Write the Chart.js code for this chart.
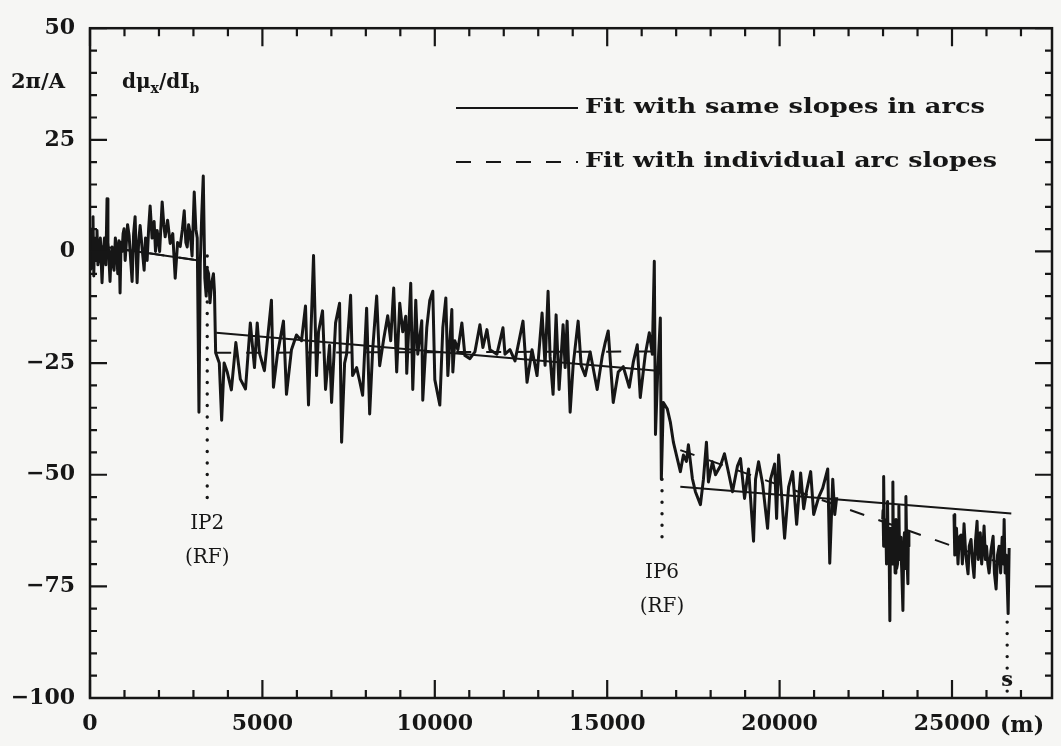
<!DOCTYPE html>
<html>
<head>
<meta charset="utf-8">
<script src="https://cdn.jsdelivr.net/npm/chart.js@4.4.1/dist/chart.umd.min.js"></script>
<style>
  html, body { margin: 0; padding: 0; background: #f6f6f4; }
  #wrap { width: 1061px; height: 746px; }
</style>
</head>
<body>
<div id="wrap"><canvas id="tuneChart" width="1061" height="746"></canvas></div>
<script>
// position around the ring (m) and measured dmu_x/dI_b (2pi/A), one pair of arrays per stretch
const arcA_s = [0, 20, 40, 60, 87, 110, 130, 150, 175, 203,
    230, 260, 300, 349, 385, 420, 460, 494, 520, 540,
    581, 610, 640, 670, 698, 735, 770, 805, 843, 872,
    900, 930, 960, 988, 1020, 1050, 1090, 1134, 1180, 1221,
    1265, 1308, 1366, 1410, 1454, 1520, 1570, 1610, 1657, 1700,
    1744, 1800, 1860, 1900, 1948, 2020, 2093, 2140, 2180, 2250,
    2326, 2400, 2471, 2540, 2616, 2680, 2733, 2780, 2820, 2860,
    2907, 2960, 3023, 3070, 3110, 3160, 3198, 3240, 3285, 3330,
    3370, 3400, 3440, 3480, 3530, 3580, 3610, 3644];
const arcA_v = [2, -4, 5, -3, 7.8, -5.5, 3, 2, -2, 4.7,
    -3, -1, 3, -7, 0, 3, -3, 11.8, 2, 0,
    -6.7, -1, 1, -3, -4.2, 3, 1, -5, 2.4, -9.3,
    2, 0, 4, 5.1, -2, 1.5, 6, 3.6, -2, -6.7,
    4, 7.8, -7, 2, 5.8, 0, -4.2, 3, -2, 5,
    10.2, 3, 6.7, 0, 4.7, 0, 11.1, 6, 3.3, 7,
    1.8, 4, -6, 2, 1.1, 5, 9.1, 2, 1, 6,
    4, -1, 13.3, 5, 3, -36, -2.7, 8, 16.9, -6,
    -10, -4, -5, -11.5, -7, -5, -9, -22.7];

const arcB_s = [3750, 3818, 3890, 3980, 4100, 4230, 4360, 4510, 4650, 4770,
    4850, 4913, 5058, 5262, 5320, 5436, 5611, 5698, 5843, 5988,
    6134, 6250, 6337, 6483, 6570, 6628, 6744, 6831, 6948, 7006,
    7122, 7238, 7297, 7384, 7442, 7558, 7616, 7733, 7820, 7907,
    8023, 8111, 8198, 8314, 8401, 8518, 8634, 8721, 8808, 8895,
    8983, 9070, 9157, 9186, 9302, 9361, 9448, 9506, 9622, 9651,
    9768, 9855, 9942, 10000, 10145, 10233, 10320, 10378, 10494, 10523,
    10581, 10669, 10785, 10872, 11018, 11163, 11308, 11395, 11512, 11599,
    11802, 11977, 12035, 12180, 12326, 12558, 12675, 12820, 12965, 13111,
    13198, 13285, 13343, 13430, 13518, 13605, 13721, 13780, 13837, 13925,
    14012, 14157, 14244, 14361, 14506, 14709, 14855, 14942, 15029, 15175,
    15320, 15465, 15640, 15756, 15872, 15959, 16105, 16221, 16308, 16366,
    16400, 16460, 16541, 16570, 16628];
const arcB_v = [-25, -37.8, -25, -27, -31, -20.4, -28.6, -30.8, -16, -26,
    -16, -22.7, -26.7, -10.9, -30.4, -23, -15.6, -32, -22, -18.7,
    -20, -12.2, -34.4, -0.9, -27.8, -18, -13.3, -30.9, -21, -33.8,
    -16, -11.6, -42.7, -25, -23, -9.8, -27.8, -26, -29, -32.2,
    -12.7, -36.4, -22, -10, -25.6, -19.6, -14.4, -20, -8.2, -27,
    -11.6, -18, -14.5, -27.3, -7.1, -30.9, -10.9, -23, -15.5, -33.3,
    -17, -10.9, -8.9, -28.7, -34.4, -17, -10.4, -27.8, -13, -27,
    -20, -22, -16, -23.3, -24, -22.5, -16.4, -21.5, -17.5, -22,
    -23, -17.1, -23, -22, -24.5, -15.6, -29.3, -22, -27.8, -13.8,
    -25.5, -8.9, -23.5, -32, -14.2, -30.9, -16.4, -26, -15.6, -36,
    -25.5, -15.6, -25.5, -27.8, -22.5, -30.9, -23.5, -20.4, -17.8, -33.8,
    -27, -25.8, -30.4, -24.8, -20.9, -32.7, -23, -18.2, -23, -2.2,
    -41, -28, -14.9, -51, -33.8];

const arcC_s = [16744, 16831, 16919, 17020, 17122, 17210, 17297, 17355, 17471, 17558,
    17704, 17791, 17878, 17936, 18052, 18140, 18285, 18401, 18518, 18634,
    18779, 18866, 18983, 19099, 19244, 19302, 19390, 19506, 19651, 19738,
    19855, 19913, 19971, 20058, 20145, 20262, 20378, 20494, 20610, 20698,
    20785, 20901, 20988, 21134, 21250, 21396, 21454, 21541, 21599, 21657];
const arcC_v = [-35.3, -38.2, -42.7, -46, -49.3, -45.6, -47, -43.3, -50.9, -53.8,
    -56.7, -51, -42.7, -51.6, -47.1, -50, -48, -45.3, -49.5, -53.8,
    -48, -46.4, -55.3, -48.7, -64.9, -51, -47.1, -52, -62, -51,
    -47.6, -59.8, -45.6, -54.5, -64.2, -52.7, -49.3, -61.1, -49.6, -57.6,
    -53.5, -49.3, -58.9, -55, -53, -48.7, -69.8, -51, -58.9, -55];

const arcD_s = [22990, 23000, 23012, 23023, 23040, 23060, 23081, 23100, 23115, 23130,
    23150, 23170, 23198, 23215, 23240, 23260, 23285, 23300, 23330, 23350,
    23372, 23395, 23420, 23440, 23459, 23480, 23500, 23520, 23545, 23576,
    23600, 23620, 23640, 23663, 23690, 23721, 23735, 23750];
const arcD_v = [-60, -58, -66, -50.4, -64, -63, -61.1, -70, -60, -56,
    -68, -62, -82.7, -64, -62, -70, -51.6, -68, -66, -72,
    -60, -71, -70, -62, -57, -69, -64, -67, -72, -80.4,
    -66, -63, -71, -54.9, -68, -74.4, -63, -66];

const arcE_s = [25058, 25080, 25100, 25130, 25174, 25210, 25262, 25300, 25349, 25400,
    25465, 25500, 25552, 25600, 25640, 25680, 25727, 25760, 25785, 25820,
    25860, 25900, 25930, 25970, 26000, 26040, 26076, 26130, 26192, 26230,
    26279, 26320, 26366, 26410, 26454, 26490, 26512, 26540, 26570, 26600,
    26628, 26657];
const arcE_v = [-58.9, -68, -66, -62, -70, -64, -63.5, -70, -61, -68,
    -72.2, -66, -64.5, -70, -73, -65, -60.4, -69, -67, -63,
    -70, -66, -61.5, -69, -66, -70, -72, -67, -63.8, -72,
    -75.6, -68, -66, -72, -64, -70, -60, -72, -68, -74,
    -81.1, -66.4];

// fitted lines, given as start/end pairs per arc
const fitSame_s = [0, 3150, 3660, 16450, 17120, 26720];
const fitSame_v = [1.5, -2, -18.2, -26.7, -52.7, -58.7];
const fitIndiv_s = [0, 3150, 3660, 16450, 17120, 26600];
const fitIndiv_v = [1.5, -2, -22.7, -22.4, -44.5, -70.3];

// dotted markers at IP2, IP6 and the end of the ring
const marker_s = [3400, 16590, 26600];
const marker_top = [-1, -51, -83];
const marker_bottom = [-55.5, -64.5, -98.5];

const xTicks = [0, 5000, 10000, 15000, 20000, 25000];
const yTicks = [-100, -75, -50, -25, 0, 25, 50];

const ink = '#161616';
const serif = '"DejaVu Serif", "Liberation Serif", serif';

function pairs(s, v) {
    return s.map((x, i) => ({ x: x, y: v[i] }));
}

// every two entries form one segment, with a gap between segments
function segments(s, v) {
    const out = [];
    for (let i = 0; i < s.length; i += 2) {
        if (i > 0) out.push({ x: (s[i - 1] + s[i]) / 2, y: null });
        out.push({ x: s[i], y: v[i] }, { x: s[i + 1], y: v[i + 1] });
    }
    return out;
}

const measured = [
    ...pairs(arcA_s, arcA_v),
    ...pairs(arcB_s, arcB_v),
    ...pairs(arcC_s, arcC_v),
    { x: 22300, y: null },
    ...pairs(arcD_s, arcD_v),
    { x: 24400, y: null },
    ...pairs(arcE_s, arcE_v)
];

const markers = [];
marker_s.forEach((s, i) => {
    if (i > 0) markers.push({ x: s - 100, y: null });
    markers.push({ x: s, y: marker_top[i] }, { x: s, y: marker_bottom[i] });
});

// frame with inward ticks on all four sides, plus the annotations
const framePlugin = {
    id: 'frame',
    afterDraw(chart) {
        const ctx = chart.ctx;
        const a = chart.chartArea;
        const xs = chart.scales.x, ys = chart.scales.y;
        ctx.save();
        ctx.strokeStyle = ink;
        ctx.lineWidth = 2.5;
        ctx.strokeRect(a.left, a.top, a.right - a.left, a.bottom - a.top);

        ctx.lineWidth = 2.2;
        ctx.beginPath();
        for (let v = -100; v <= 50; v += 5) {
            const y = ys.getPixelForValue(v);
            const len = v % 25 === 0 ? 17 : 7;
            ctx.moveTo(a.left, y); ctx.lineTo(a.left + len, y);
            ctx.moveTo(a.right, y); ctx.lineTo(a.right - len, y);
        }
        for (let s = 0; s <= 27000; s += 1000) {
            const x = xs.getPixelForValue(s);
            const len = s % 5000 === 0 ? 18 : 8;
            ctx.moveTo(x, a.bottom); ctx.lineTo(x, a.bottom - len);
            ctx.moveTo(x, a.top); ctx.lineTo(x, a.top + len);
        }
        ctx.stroke();

        ctx.fillStyle = ink;
        ctx.textBaseline = 'alphabetic';

        // axis captions
        ctx.textAlign = 'left';
        ctx.font = 'bold 21px ' + serif;
        ctx.fillText('2\u03c0/A', 11, 88);
        let x = 122;
        const part = (t, size, dy) => {
            ctx.font = 'bold ' + size + 'px ' + serif;
            ctx.fillText(t, x, 88 + dy);
            x += ctx.measureText(t).width;
        };
        part('d\u03bc', 20, 0);
        part('x', 14, 5);
        part('/dI', 20, 0);
        part('b', 14, 5);

        ctx.font = 'bold 22px ' + serif;
        ctx.textAlign = 'center';
        ctx.textBaseline = 'middle';
        ctx.fillText('(m)', 1022, xs.bottom - 20);

        // site labels under the dotted markers
        ctx.font = '20px ' + serif;
        ctx.fillText('IP2', xs.getPixelForValue(marker_s[0]), ys.getPixelForValue(-61));
        ctx.fillText('(RF)', xs.getPixelForValue(marker_s[0]), ys.getPixelForValue(-68.5));
        ctx.fillText('IP6', xs.getPixelForValue(marker_s[1]), ys.getPixelForValue(-72));
        ctx.fillText('(RF)', xs.getPixelForValue(marker_s[1]), ys.getPixelForValue(-79.5));
        ctx.font = 'bold 21px ' + serif;
        ctx.fillText('s', xs.getPixelForValue(marker_s[2]), ys.getPixelForValue(-96));

        // key for the two fits
        const rows = [
            { ds: 1, label: 'Fit with same slopes in arcs', y: 108, w: 400 },
            { ds: 2, label: 'Fit with individual arc slopes', y: 162, w: 412 }
        ];
        ctx.textAlign = 'left';
        ctx.font = 'bold 20px ' + serif;
        rows.forEach(r => {
            const d = chart.data.datasets[r.ds];
            ctx.save();
            ctx.lineWidth = 2;
            ctx.setLineDash(d.borderDash || []);
            ctx.beginPath();
            ctx.moveTo(456, r.y);
            ctx.lineTo(578, r.y);
            ctx.stroke();
            ctx.restore();
            const tw = ctx.measureText(r.label).width;
            ctx.save();
            ctx.translate(585, r.y);
            ctx.scale(r.w / tw, 1);
            ctx.fillText(r.label, 0, 0);
            ctx.restore();
        });
        ctx.restore();
    }
};

new Chart(document.getElementById('tuneChart'), {
    type: 'line',
    data: {
        datasets: [
            {
                label: 'measured',
                data: measured,
                borderColor: ink,
                borderWidth: 3,
                borderJoinStyle: 'round',
                pointRadius: 0,
                tension: 0,
                spanGaps: false
            },
            {
                label: 'Fit with same slopes in arcs',
                data: segments(fitSame_s, fitSame_v),
                borderColor: ink,
                borderWidth: 2,
                pointRadius: 0,
                spanGaps: false
            },
            {
                label: 'Fit with individual arc slopes',
                data: segments(fitIndiv_s, fitIndiv_v),
                borderColor: ink,
                borderWidth: 2,
                borderDash: [15, 15],
                pointRadius: 0,
                spanGaps: false
            },
            {
                label: 'markers',
                data: markers,
                borderColor: ink,
                borderWidth: 3.4,
                borderDash: [0, 11.5],
                borderCapStyle: 'round',
                pointRadius: 0,
                spanGaps: false
            }
        ]
    },
    options: {
        responsive: false,
        animation: false,
        layout: { padding: { top: 23, right: 9, left: 0, bottom: 0 } },
        plugins: { legend: { display: false }, tooltip: { enabled: false } },
        scales: {
            x: {
                type: 'linear',
                min: 0,
                max: 27900,
                grid: { display: false, drawTicks: false },
                border: { display: false },
                ticks: {
                    padding: 13,
                    maxRotation: 0,
                    color: ink,
                    font: { family: serif, size: 22, weight: 'bold' },
                    callback: v => String(v)
                },
                afterBuildTicks: s => { s.ticks = xTicks.map(v => ({ value: v })); },
                afterFit: s => { s.height = 48; }
            },
            y: {
                min: -100,
                max: 50,
                grid: { display: false, drawTicks: false },
                border: { display: false },
                ticks: {
                    padding: 15,
                    color: ink,
                    font: { family: serif, size: 22, weight: 'bold' },
                    callback: v => String(v).replace('-', '\u2212')
                },
                afterBuildTicks: s => { s.ticks = yTicks.map(v => ({ value: v })); },
                afterFit: s => { s.width = 90; }
            }
        }
    },
    plugins: [framePlugin]
});
</script>
</body>
</html>
